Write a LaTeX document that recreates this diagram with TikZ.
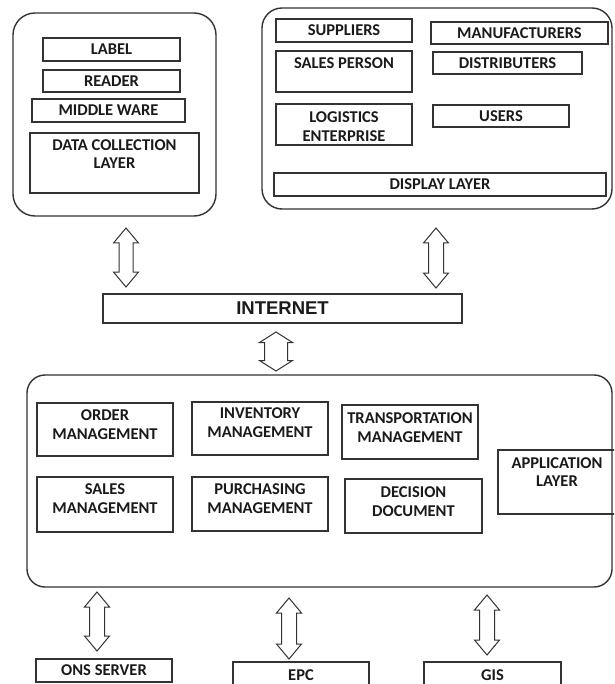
\documentclass[tikz,border=0pt]{standalone}
\usepackage{fontspec}
\setmainfont{Carlito}
\newfontfamily\arialf{Liberation Sans}
\usetikzlibrary{calc}
\definecolor{ln}{HTML}{333333}
\definecolor{tx}{HTML}{1A1A1A}
\tikzset{
  box/.style={draw=ln, line width=1.2pt, inner sep=0pt, rectangle},
  outerbox/.style={draw=ln, line width=1.4pt, inner sep=0pt, rectangle},
  txt/.style={text=tx, align=center, inner sep=0pt, font=\bfseries\fontsize{16.5}{18.8}\selectfont},
  nettxt/.style={text=tx, inner sep=0pt, font=\arialf\bfseries\fontsize{18.5}{20}\selectfont},
  dblarr/.style={draw=ln, line width=1pt, line join=miter, fill=white}
}
% name, x1, y1, x2, y2, text y, text
\newcommand\bx[7]{%
  \node[box, minimum width={(#4-#2)*1pt}, minimum height={(#5-#3)*1pt}] (#1) at ({(#2+#4)/2},{(#3+#5)/2}) {};
  \node[txt] (#1-t) at ({(#2+#4)/2},#6) {#7};}
% top coord, bottom coord, half head, half shaft, head length
\newcommand\dblarrow[5]{%
  \draw[dblarr] (#1) -- ++(#3,#5) -- ++({-(#3-#4)},0) -- ($(#2)+(#4,{-#5})$) -- ++({#3-#4},0) -- (#2)
    -- ++({-#3},{-#5}) -- ++({#3-#4},0) -- ($(#1)+({-#4},#5)$) -- ++({-(#3-#4)},0) -- cycle;}
\begin{document}
\begin{tikzpicture}[x=1pt,y=-1pt]
\useasboundingbox (0,0) rectangle (614,684);
\clip (0,0) rectangle (614,684);
\fill[white] (0,0) rectangle (614,684);

% ---- data collection layer group
\node[outerbox, rounded corners=22pt, minimum width=203pt, minimum height=203pt] (dcl) at (114.5,114.5) {};
\bx{label}{43}{38}{180}{61}{49.5}{LABEL}
\bx{reader}{43}{70}{180}{92}{81}{READER}
\bx{mw}{32}{99}{185}{122}{110.5}{MIDDLE WARE}
\bx{dcol}{30}{133}{199}{193}{154}{DATA COLLECTION\\LAYER}

% ---- display layer group
\node[outerbox, rounded corners=20pt, minimum width=350pt, minimum height=201pt] (dl) at (437,108.5) {};
\bx{sup}{276}{19}{412}{42}{30.5}{SUPPLIERS}
\bx{man}{431}{22}{608}{44}{33}{MANUFACTURERS}
\bx{sp}{276}{51}{412}{92}{63}{SALES PERSON}
\bx{dist}{433}{52}{582}{74}{63}{DISTRIBUTERS}
\bx{log}{276}{104}{412}{145}{126.5}{LOGISTICS\\ENTERPRISE}
\bx{users}{433}{105}{569}{127}{116}{USERS}
\bx{disp}{274}{173}{606}{196}{184.5}{DISPLAY LAYER}

% ---- internet
\node[box, minimum width=359pt, minimum height=29pt] (net) at (282.5,308.5) {};
\node[nettxt] (net-t) at (net.center) {INTERNET};

% ---- application layer group
\node[outerbox, rounded corners=18pt, minimum width=585pt, minimum height=212pt] (app) at (319.5,481) {};
\bx{order}{37}{403}{173}{456}{425}{ORDER\\MANAGEMENT}
\bx{inv}{192}{402}{328}{455}{423}{INVENTORY\\MANAGEMENT}
\bx{trans}{342}{405}{478}{459}{427.5}{TRANSPORTATION\\MANAGEMENT}
\bx{appl}{498}{450}{616}{514}{472}{APPLICATION\\LAYER}
\bx{sales}{37}{477}{173}{532}{499}{SALES\\MANAGEMENT}
\bx{purch}{192}{477}{328}{531}{499}{PURCHASING\\MANAGEMENT}
\bx{dec}{345}{479}{482}{533}{501.5}{DECISION\\DOCUMENT}

% ---- bottom servers
\bx{ons}{36}{659}{172}{682}{670.5}{ONS SERVER}
\bx{epc}{233}{662}{369}{710}{675}{EPC}
\bx{gis}{424}{662}{561}{710}{675}{GIS}

% ---- connector end points (arrows float between the boxes)
\coordinate (a1t) at (126,228);
\coordinate (a1b) at (126,287);
\coordinate (a2t) at (436,228);
\coordinate (a2b) at (436,288);
\coordinate (a3t) at (276,332);
\coordinate (a3b) at (276,371);
\coordinate (a4t) at (97,592);
\coordinate (a4b) at (97,651);
\coordinate (a5t) at (289,598);
\coordinate (a5b) at (289,659);
\coordinate (a6t) at (487,595);
\coordinate (a6b) at (487,655);

\dblarrow{a1t}{a1b}{12.5}{7}{15}
\dblarrow{a2t}{a2b}{12.5}{7.5}{15}
\dblarrow{a3t}{a3b}{16.5}{11.5}{10.5}
\dblarrow{a4t}{a4b}{12.5}{7.5}{15}
\dblarrow{a5t}{a5b}{12.5}{7.5}{15}
\dblarrow{a6t}{a6b}{12.5}{7.5}{15}
\end{tikzpicture}
\end{document}
